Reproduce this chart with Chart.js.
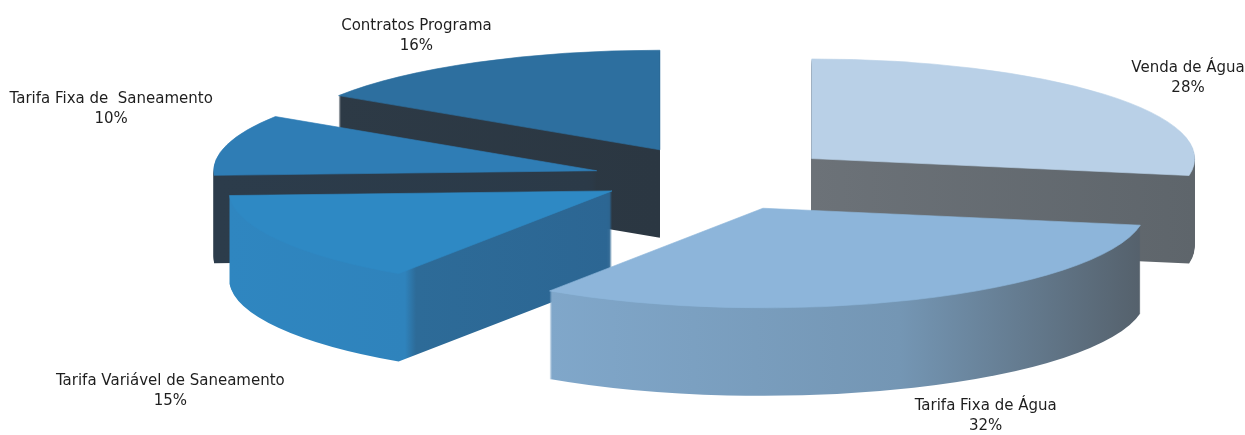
<!DOCTYPE html>
<html lang="pt">
<head>
  <meta charset="UTF-8">
  <script src="https://cdn.jsdelivr.net/npm/chart.js"></script>
  <title>Receitas</title>
  <style>
    body { margin: 0; background: #fff; }
    canvas { display: block; }
  </style>
</head>
<body>
  <canvas id="myChart" width="1245" height="435"></canvas>
  <script>
    // data (percent shares)
    const categories = ['Venda de Água', 'Tarifa Fixa de Água', 'Tarifa Variável de Saneamento', 'Tarifa Fixa de  Saneamento', 'Contratos Programa'];
    const shares = [28, 32, 15, 10, 16];

    // look of the 3d pie
    const topColors = ['#b9d0e7', '#8db5da', '#2e89c4', '#2f7db5', '#2d6f9f'];
    const sideStops = [
      [[812, '#6c7278'], [1195, '#5e656b']],
      [[550, '#80a7ca'], [900, '#7496b4'], [1140, '#55616c']],
      [[230, '#2f86c0'], [405, '#2f83bc'], [416, '#2d6b98'], [612, '#2c6693']],
      [[215, '#2c3c4b'], [600, '#2b3a48']],
      [[335, '#2d3a46'], [660, '#2b3742']]
    ];
    const explode = [146, 160, 101, 107, 84];
    const lift = [5, -8, 0, 0, -9];
    const labelR = [492, 566, 507, 503, 510];
    const labelLift = [7, 65, 135, -27, -6];
    const CX = 700, CY = 178, K = 0.26, DEPTH = 88;

    const pie3d = {
      id: 'pie3d',
      beforeDatasetsDraw(chart) {
        const ctx = chart.ctx;
        const arcs = chart.getDatasetMeta(0).data;
        // back slices first
        const order = arcs.map((a, i) => i).sort((p, q) => {
          const mp = (arcs[p].startAngle + arcs[p].endAngle) / 2;
          const mq = (arcs[q].startAngle + arcs[q].endAngle) / 2;
          return Math.sin(mp) - Math.sin(mq);
        });
        order.forEach(i => {
          const arc = arcs[i];
          const mid = (arc.startAngle + arc.endAngle) / 2;
          const ox = Math.cos(mid) * explode[i];
          const oy = Math.sin(mid) * explode[i];
          const place = (dy) => {
            ctx.translate(CX, CY + lift[i] + dy);
            ctx.scale(1, K);
            ctx.translate(-arc.x + ox, -arc.y + oy);
          };
          const shiftX = CX - arc.x + ox;
          const stops = sideStops[i];
          const x0 = stops[0][0], x1 = stops[stops.length - 1][0];
          const g = ctx.createLinearGradient(x0 - shiftX, 0, x1 - shiftX, 0);
          stops.forEach(s => g.addColorStop((s[0] - x0) / (x1 - x0), s[1]));

          const saved = arc.options;
          arc.options = Object.assign({}, saved, { backgroundColor: g, borderWidth: 0 });
          for (let d = DEPTH; d > 0; d--) {
            ctx.save(); place(d); arc.draw(ctx); ctx.restore();
          }
          arc.options = Object.assign({}, saved, { borderWidth: 1, borderColor: topColors[i] });
          ctx.save(); place(0); arc.draw(ctx); ctx.restore();
          arc.options = saved;
        });
        return false;
      },
      afterDraw(chart) {
        const ctx = chart.ctx;
        const arcs = chart.getDatasetMeta(0).data;
        const total = shares.reduce((a, b) => a + b, 0);
        ctx.save();
        ctx.font = '15px "DejaVu Sans"';
        ctx.fillStyle = '#1e1e1e';
        ctx.textAlign = 'center';
        ctx.textBaseline = 'middle';
        arcs.forEach((arc, i) => {
          const mid = (arc.startAngle + arc.endAngle) / 2;
          const x = CX + Math.cos(mid) * (explode[i] + labelR[i]);
          const y = CY + K * Math.sin(mid) * (explode[i] + labelR[i]) + labelLift[i];
          ctx.fillText(chart.data.labels[i], x, y - 10);
          ctx.fillText(Math.round(shares[i] / total * 100) + '%', x, y + 10);
        });
        ctx.restore();
      }
    };

    new Chart(document.getElementById('myChart'), {
      type: 'pie',
      data: {
        labels: categories,
        datasets: [{
          data: shares,
          backgroundColor: topColors,
          borderWidth: 0
        }]
      },
      options: {
        responsive: false,
        animation: false,
        radius: 383,
        plugins: {
          legend: { display: false },
          tooltip: { enabled: false }
        }
      },
      plugins: [pie3d]
    });
  </script>
</body>
</html>
